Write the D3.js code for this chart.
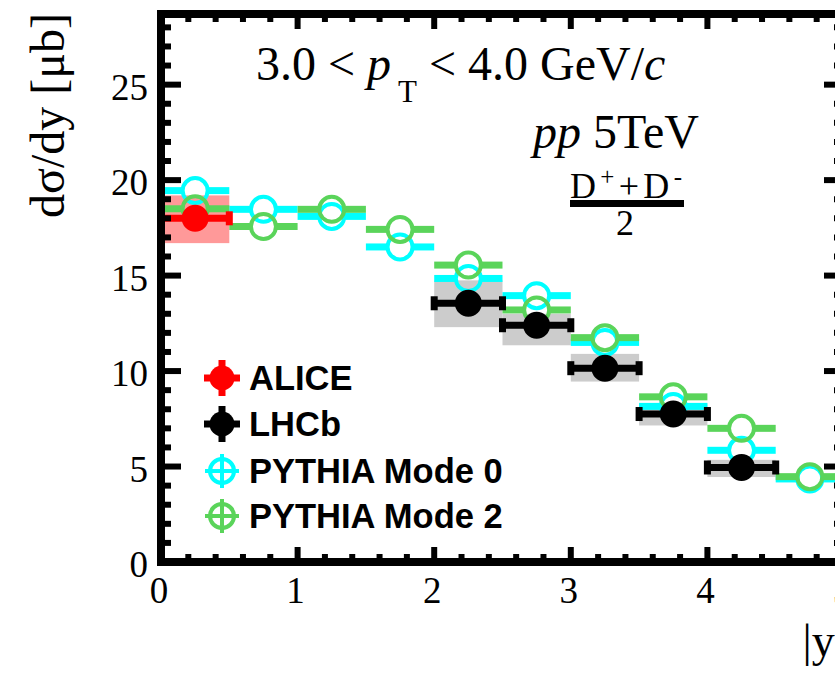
<!DOCTYPE html>
<html>
<head>
<meta charset="utf-8">
<script src="https://cdn.jsdelivr.net/npm/d3@7"></script>
<style>
  body { margin: 0; background: #fff; }
  svg { display: block; }
</style>
</head>
<body>
<svg id="chart" width="835" height="673"></svg>
<script>
// |y| bins (width 0.5)
var binLo = [0, 0.5, 1.0, 1.5, 2.0, 2.5, 3.0, 3.5, 4.0, 4.5];
var binHi = [0.5, 1.0, 1.5, 2.0, 2.5, 3.0, 3.5, 4.0, 4.5, 5.0];

// PYTHIA predictions, one value per bin
var pythiaMode0 = [19.45, 18.47, 18.1, 16.5, 14.85, 13.95, 11.5, 8.15, 5.85, 4.35];
var pythiaMode2 = [18.5, 17.57, 18.47, 17.42, 15.55, 13.2, 11.75, 8.65, 7.0, 4.47];

// ALICE (mid rapidity)
var aliceLo = [0];
var aliceHi = [0.5];
var aliceVal = [18.0];
var aliceSysLo = [16.7];
var aliceSysHi = [19.2];

// LHCb (forward)
var lhcbLo = [2.0, 2.5, 3.0, 3.5, 4.0];
var lhcbHi = [2.5, 3.0, 3.5, 4.0, 4.5];
var lhcbVal = [13.55, 12.4, 10.15, 7.75, 4.95];
var lhcbSysLo = [12.3, 11.35, 9.45, 7.15, 4.45];
var lhcbSysHi = [14.75, 13.0, 10.9, 8.3, 5.35];

var xMajor = [0, 1, 2, 3, 4, 5];
var yMajor = [0, 5, 10, 15, 20, 25];

var legendNames = ["ALICE", "LHCb", "PYTHIA Mode 0", "PYTHIA Mode 2"];

var cyan = "#00ffff", green = "#5ad45a";

var svg = d3.select("#chart");

var x = d3.scaleLinear().domain([0, 5]).range([161, 844]);
var y = d3.scaleLinear().domain([0, 28.7]).range([562, 14]);

var serif = "'Liberation Serif','Times New Roman',serif";
var sans = "'Liberation Sans',Arial,sans-serif";

// ---- systematic boxes
function boxes(lo, hi, sLo, sHi, fill) {
    svg.append("g").selectAll("rect")
        .data(lo.map(function(d, i) { return i; }))
        .enter().append("rect")
        .attr("x", function(i) { return x(lo[i]); })
        .attr("width", function(i) { return x(hi[i]) - x(lo[i]); })
        .attr("y", function(i) { return y(sHi[i]); })
        .attr("height", function(i) { return y(sLo[i]) - y(sHi[i]); })
        .attr("fill", fill);
}
boxes(lhcbLo, lhcbHi, lhcbSysLo, lhcbSysHi, "#cccccc");
boxes(aliceLo, aliceHi, aliceSysLo, aliceSysHi, "#ff9999");

// ---- PYTHIA: thick bin bars with gap under open circle
var rOpen = 12.5;
function pythia(vals, color) {
    var g = svg.append("g");
    vals.forEach(function(v, i) {
        var cx = x((binLo[i] + binHi[i]) / 2), cy = y(v);
        g.append("line").attr("x1", x(binLo[i])).attr("x2", cx - rOpen - 1)
            .attr("y1", cy).attr("y2", cy).attr("stroke", color).attr("stroke-width", 7);
        g.append("line").attr("x1", cx + rOpen + 1).attr("x2", x(binHi[i]))
            .attr("y1", cy).attr("y2", cy).attr("stroke", color).attr("stroke-width", 7);
        g.append("circle").attr("cx", cx).attr("cy", cy).attr("r", rOpen)
            .attr("fill", "none").attr("stroke", color).attr("stroke-width", 4);
    });
}
pythia(pythiaMode0, cyan);
pythia(pythiaMode2, green);

// ---- data points: filled circle, horizontal bar with end caps
function points(lo, hi, vals, color) {
    var g = svg.append("g");
    vals.forEach(function(v, i) {
        var cy = y(v);
        g.append("line").attr("x1", x(lo[i])).attr("x2", x(hi[i]))
            .attr("y1", cy).attr("y2", cy).attr("stroke", color).attr("stroke-width", 7);
        [lo[i], hi[i]].forEach(function(e) {
            g.append("rect").attr("x", x(e) - 3.5).attr("y", cy - 7)
                .attr("width", 7).attr("height", 14).attr("fill", color);
        });
        g.append("circle").attr("cx", x((lo[i] + hi[i]) / 2)).attr("cy", cy)
            .attr("r", 13.5).attr("fill", color);
    });
}
points(lhcbLo, lhcbHi, lhcbVal, "#000");
points(aliceLo, aliceHi, aliceVal, "#ff0000");

// ---- frame and ticks
var frame = svg.append("g");
frame.append("rect")
    .attr("x", x(0)).attr("y", y(28.7))
    .attr("width", x(5) - x(0)).attr("height", y(0) - y(28.7))
    .attr("fill", "none").attr("stroke", "#000").attr("stroke-width", 8);

var xMinor = d3.range(0, 5.001, 0.2).filter(function(v) { return Math.abs(v - Math.round(v)) > 1e-6; });
var yMinor = d3.range(1, 29, 1).filter(function(v) { return v % 5 !== 0; });

function xTicks(vals, len) {
    vals.forEach(function(v) {
        frame.append("line").attr("x1", x(v)).attr("x2", x(v))
            .attr("y1", y(0)).attr("y2", y(0) - len).attr("stroke", "#000").attr("stroke-width", 6);
        frame.append("line").attr("x1", x(v)).attr("x2", x(v))
            .attr("y1", y(28.7)).attr("y2", y(28.7) + len).attr("stroke", "#000").attr("stroke-width", 6);
    });
}
function yTicks(vals, len) {
    vals.forEach(function(v) {
        frame.append("line").attr("x1", x(0)).attr("x2", x(0) + len)
            .attr("y1", y(v)).attr("y2", y(v)).attr("stroke", "#000").attr("stroke-width", 6);
        frame.append("line").attr("x1", x(5)).attr("x2", x(5) - len)
            .attr("y1", y(v)).attr("y2", y(v)).attr("stroke", "#000").attr("stroke-width", 6);
    });
}
xTicks(xMajor, 15);
xTicks(xMinor, 8);
yTicks(yMajor, 20);
yTicks(yMinor, 10);

// tick labels
svg.append("g").selectAll("text").data(xMajor).enter().append("text")
    .attr("x", function(d) { return x(d) - 2; })
    .attr("y", 603)
    .attr("text-anchor", "middle")
    .style("font", "37px " + serif)
    .text(function(d) { return d; });

svg.append("g").selectAll("text").data(yMajor).enter().append("text")
    .attr("x", 148)
    .attr("y", function(d) { return y(d) + 15; })
    .attr("text-anchor", "end")
    .style("font", "37px " + serif)
    .text(function(d) { return d; });

// axis titles
svg.append("text")
    .attr("transform", "translate(64,13) rotate(-90)")
    .attr("text-anchor", "end")
    .style("font", "48px " + serif)
    .text("dσ/dy [μb]");

svg.append("text")
    .attr("x", x(5)).attr("y", 656)
    .attr("text-anchor", "end")
    .style("font", "46px " + serif)
    .text("|y|");

// annotations
var t1 = svg.append("text").attr("x", 256).attr("y", 80).style("font", "48px " + serif);
t1.append("tspan").text("3.0 < ");
t1.append("tspan").style("font-style", "italic").text("p");
t1.append("tspan").attr("dx", 7).attr("dy", 22).style("font-size", "31px").text("T");
t1.append("tspan").attr("dy", -22).text(" < 4.0 GeV/");
t1.append("tspan").style("font-style", "italic").text("c");

var t2 = svg.append("text").attr("x", 533).attr("y", 148).style("font", "48px " + serif);
t2.append("tspan").style("font-style", "italic").text("pp");
t2.append("tspan").text(" 5TeV");

var t3 = svg.append("text").attr("x", 570).attr("y", 198).style("font", "36px " + serif)
    .attr("textLength", 112).attr("lengthAdjust", "spacing");
t3.append("tspan").text("D");
t3.append("tspan").attr("dy", -13).style("font-size", "25px").text("+");
t3.append("tspan").attr("dy", 13).text("+D");
t3.append("tspan").attr("dy", -13).style("font-size", "25px").text("-");
svg.append("rect").attr("x", 570).attr("y", 200).attr("width", 114).attr("height", 7).attr("fill", "#000");
svg.append("text").attr("x", 625).attr("y", 235).attr("text-anchor", "middle")
    .style("font", "36px " + serif).text("2");

// legend
var legY = [378, 424, 471, 516];
var legColor = ["#ff0000", "#000", cyan, green];
var leg = svg.append("g").selectAll("g").data(legendNames).enter().append("g")
    .attr("transform", function(d, i) { return "translate(222," + legY[i] + ")"; });
leg.each(function(d, i) {
    var g = d3.select(this);
    if (i < 2) {
        g.append("line").attr("x1", -18).attr("x2", 18).attr("stroke", legColor[i]).attr("stroke-width", 7);
        g.append("line").attr("y1", -18).attr("y2", 18).attr("stroke", legColor[i]).attr("stroke-width", 7);
        g.append("circle").attr("r", 12.5).attr("fill", legColor[i]);
    } else {
        g.append("line").attr("x1", -17).attr("x2", 17).attr("stroke", legColor[i]).attr("stroke-width", 4);
        g.append("line").attr("y1", -17).attr("y2", 17).attr("stroke", legColor[i]).attr("stroke-width", 4);
        g.append("circle").attr("r", 12).attr("fill", "none").attr("stroke", legColor[i]).attr("stroke-width", 4);
    }
    g.append("text").attr("x", 27).attr("y", 11.5)
        .style("font", "bold 34.5px " + sans).text(d);
});
</script>
</body>
</html>
